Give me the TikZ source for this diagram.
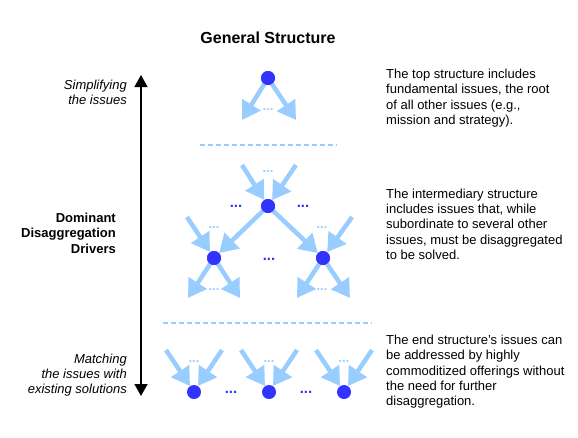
\documentclass[tikz,border=0pt]{standalone}
\usepackage{fontspec}
\setmainfont{Liberation Sans}
\usetikzlibrary{arrows.meta}
\definecolor{dotblue}{HTML}{3333FF}
\definecolor{lightblue}{HTML}{99CCFF}
\begin{document}
\begin{tikzpicture}[x=1pt,y=-1pt,
  issue/.style={circle,fill=dotblue,minimum size=14pt,inner sep=0pt},
  barrow/.style={draw=lightblue,line width=4.5pt,-{Triangle[width=21pt,length=18pt]}},
  ldots/.style={text=lightblue,font=\bfseries\fontsize{13}{13}\selectfont,inner sep=0pt},
  ddots/.style={text=dotblue,font=\bfseries\fontsize{15}{15}\selectfont,inner sep=0pt},
  sepline/.style={draw=lightblue,line width=1.5pt,dash pattern=on 5pt off 3pt},
  desc/.style={anchor=north west,align=left,inner sep=0pt,font=\fontsize{13}{15.3}\selectfont},
  side/.style={anchor=north east,align=right,inner sep=0pt,font=\itshape\fontsize{13}{15.3}\selectfont},
  sidebold/.style={anchor=north east,align=right,inner sep=0pt,font=\bfseries\fontsize{13}{15.3}\selectfont},
  axis/.style={draw=black,line width=1.3pt,{Triangle[width=13pt,length=12pt]}-{Triangle[width=13pt,length=12pt]}},
]
\useasboundingbox (0,0) rectangle (578,437);

% title
\node[anchor=north,inner sep=0pt,font=\bfseries\fontsize{16}{18}\selectfont] (title) at (268,32) {General Structure};

% vertical axis
\coordinate (axtop) at (141,75);
\coordinate (axbot) at (141,396);
\draw[axis] (axbot) -- (axtop);

% left labels
\node[side] (lsimp) at (127,79.5) {Simplifying\\the issues};
\node[sidebold] (ldom) at (116,213) {Dominant\\Disaggregation\\Drivers};
\node[side] (lmatch) at (127,353.5) {Matching\\the issues with\\existing solutions};

% right descriptions
\node[desc] (dtop) at (386,69) {The top structure includes\\fundamental issues, the root\\of all other issues (e.g.,\\mission and strategy).};
\node[desc] (dmid) at (386,188.5) {The intermediary structure\\includes issues that, while\\subordinate to several other\\issues, must be disaggregated\\to be solved.};
\node[desc] (dend) at (386,335) {The end structure’s issues can\\be addressed by highly\\commoditized offerings without\\the need for further\\disaggregation.};

% separators
\coordinate (s1a) at (200,145);
\coordinate (s1b) at (337,145);
\draw[sepline] (s1a) -- (s1b);
\coordinate (s2a) at (163,323);
\coordinate (s2b) at (372,323);
\draw[sepline] (s2a) -- (s2b);

% issue nodes
\node[issue] (top) at (268,78) {};
\node[issue] (mid) at (268,206) {};
\node[issue] (ml) at (214,258) {};
\node[issue] (mr) at (323,258) {};
\node[issue] (b1) at (194,392) {};
\node[issue] (b2) at (269,392) {};
\node[issue] (b3) at (344,392) {};

% free arrow ends
\coordinate (t1) at (242,120);
\coordinate (t2) at (296,120);
\coordinate (mi1) at (242,165);
\coordinate (mi2) at (296,165);
\coordinate (li) at (187,217);
\coordinate (ri) at (352,217);
\coordinate (lo1) at (188,298);
\coordinate (lo2) at (240,298);
\coordinate (ro1) at (297,298);
\coordinate (ro2) at (350,298);
\coordinate (b1a) at (166,350);
\coordinate (b1b) at (222,350);
\coordinate (b2a) at (241,350);
\coordinate (b2b) at (297,350);
\coordinate (b3a) at (316,350);
\coordinate (b3b) at (372,350);

% arrows
\draw[barrow] (top) -- (t1);
\draw[barrow] (top) -- (t2);
\draw[barrow] (mi1) -- (mid);
\draw[barrow] (mi2) -- (mid);
\draw[barrow] (mid) -- (ml);
\draw[barrow] (mid) -- (mr);
\draw[barrow] (li) -- (ml);
\draw[barrow] (ri) -- (mr);
\draw[barrow] (ml) -- (lo1);
\draw[barrow] (ml) -- (lo2);
\draw[barrow] (mr) -- (ro1);
\draw[barrow] (mr) -- (ro2);
\draw[barrow] (b1a) -- (b1);
\draw[barrow] (b1b) -- (b1);
\draw[barrow] (b2a) -- (b2);
\draw[barrow] (b2b) -- (b2);
\draw[barrow] (b3a) -- (b3);
\draw[barrow] (b3b) -- (b3);

% redraw nodes on top
\node[issue] at (top) {};
\node[issue] at (mid) {};
\node[issue] at (ml) {};
\node[issue] at (mr) {};

% light dots
\node[ldots] (ld1) at (268,110) {...};
\node[ldots] (ld2) at (268,172) {...};
\node[ldots] (ld3) at (214,228) {...};
\node[ldots] (ld4) at (322,228) {...};
\node[ldots] (ld5) at (214,290) {...};
\node[ldots] (ld6) at (322,290) {...};
\node[ldots] (ld7) at (194,362) {...};
\node[ldots] (ld8) at (269,362) {...};
\node[ldots] (ld9) at (344,362) {...};

% dark dots
\node[ddots] (dd1) at (236,206) {...};
\node[ddots] (dd2) at (303,206) {...};
\node[ddots] (dd3) at (269,259) {...};
\node[ddots] (dd4) at (231,392) {...};
\node[ddots] (dd5) at (306,392) {...};
\end{tikzpicture}
\end{document}
